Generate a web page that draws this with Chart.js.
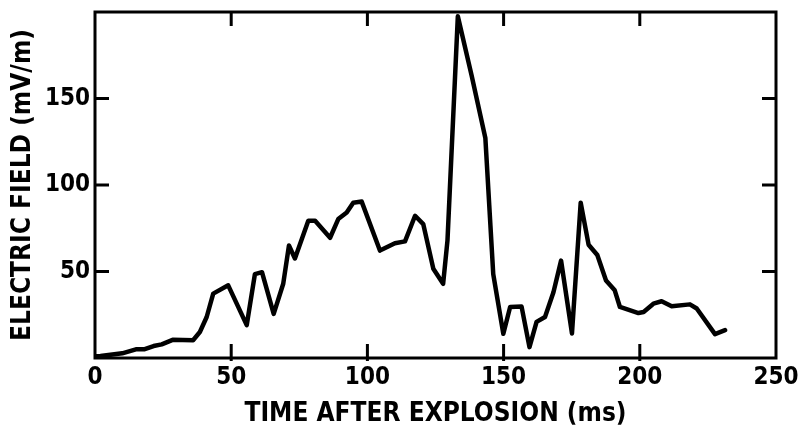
<!DOCTYPE html>
<html lang="en">
<head>
    <meta charset="UTF-8">
    <script src="https://cdn.jsdelivr.net/npm/chart.js@4.4.1/dist/chart.umd.min.js"></script>
    <title>Electric field after explosion</title>
    <style>
        body { margin: 0; background: #fff; }
    </style>
</head>
<body>
    <canvas id="fieldChart" width="799" height="427"></canvas>

    <script>
    // time after explosion (ms)
    const timeMs = [0, 2, 10, 15, 18, 21.5, 24.5, 28.5, 36, 38.5, 41, 43.4, 48.9, 55.7, 58.7, 61.3,
        65.6, 69.1, 71.2, 73.4, 78.3, 80.8, 86.3, 89.3, 92.4, 94.8, 97.9, 104.6, 110.1, 113.8,
        117.5, 120.5, 124.2, 127.8, 129.4, 133.2, 138.3, 143.3, 146.2, 149.9, 152.4, 156.6,
        159.5, 162.1, 165.2, 168.3, 171.1, 175.1, 178.3, 181.2, 184.4, 187.6, 190.8, 192.7,
        199.5, 201.4, 205, 208, 211.7, 218.4, 220.9, 227.6, 231.3];
    // electric field (mV/m)
    const fieldValues = [1, 1.1, 2.7, 5, 5, 6.9, 7.9, 10.5, 10.3, 15, 23.7, 37.2, 42, 19, 48.5, 49.6,
        25.5, 42.9, 65, 57.5, 79.3, 79.3, 69.5, 80.3, 84.1, 89.8, 90.4, 62.1, 66.3, 67.4,
        82.2, 77.4, 51.6, 42.9, 68, 197.5, 163, 127.2, 48.5, 14, 29.5, 29.7,
        6.3, 20.9, 23.7, 38, 56.3, 14.2, 89.8, 65.5, 59.5, 44.8, 39.1, 29.5,
        26, 26.6, 31.4, 32.8, 29.9, 31, 28.6, 13.8, 16.1];
    const xTicks = [0, 50, 100, 150, 200, 250];
    const yTicks = [50, 100, 150];

    const labelFont = '"DejaVu Sans Condensed", "DejaVu Sans", sans-serif';

    // frame round the plot plus the little inward tick marks on all four sides
    const framePlugin = {
        id: 'frame',
        afterDatasetsDraw(chart) {
            const { ctx, chartArea: a, scales } = chart;
            const len = 14;
            ctx.save();
            ctx.strokeStyle = '#000';
            ctx.lineWidth = 3;
            ctx.strokeRect(a.left, a.top, a.right - a.left, a.bottom - a.top);
            ctx.beginPath();
            xTicks.slice(1, -1).forEach(v => {
                const px = scales.x.getPixelForValue(v);
                ctx.moveTo(px, a.top);
                ctx.lineTo(px, a.top + len);
                ctx.moveTo(px, a.bottom + 3);
                ctx.lineTo(px, a.bottom - len);
            });
            yTicks.forEach(v => {
                const py = scales.y.getPixelForValue(v);
                ctx.moveTo(a.left, py);
                ctx.lineTo(a.left + len, py);
                ctx.moveTo(a.right, py);
                ctx.lineTo(a.right - len, py);
            });
            ctx.stroke();
            ctx.restore();
        }
    };

    const ctx = document.getElementById('fieldChart').getContext('2d');
    const fieldChart = new Chart(ctx, {
        type: 'line',
        data: {
            datasets: [{
                data: timeMs.map((t, i) => ({ x: t, y: fieldValues[i] })),
                borderColor: '#000',
                borderWidth: 4.5,
                pointRadius: 0,
                tension: 0,
                borderJoinStyle: 'round',
                borderCapStyle: 'round',
                fill: false
            }]
        },
        options: {
            responsive: false,
            animation: false,
            layout: { padding: { top: 12, right: 23, left: 0, bottom: 0 } },
            plugins: {
                legend: { display: false },
                tooltip: { enabled: false }
            },
            scales: {
                x: {
                    type: 'linear',
                    min: 0,
                    max: 250,
                    grid: { display: false, drawTicks: false },
                    border: { display: false },
                    ticks: {
                        stepSize: 50,
                        padding: 5,
                        color: '#000',
                        font: { family: labelFont, size: 24, weight: 'bold' }
                    },
                    title: {
                        display: true,
                        text: 'TIME AFTER EXPLOSION (ms)',
                        color: '#000',
                        padding: 0,
                        font: { family: labelFont, size: 26, weight: 'bold', lineHeight: 1 }
                    },
                    afterFit(scale) {
                        scale.height = 69;
                        scale.paddingLeft = 0;
                        scale.paddingRight = 0;
                    }
                },
                y: {
                    min: 0,
                    max: 200,
                    grid: { display: false, drawTicks: false },
                    border: { display: false },
                    ticks: {
                        stepSize: 50,
                        padding: 5,
                        color: '#000',
                        font: { family: labelFont, size: 24, weight: 'bold' },
                        callback: v => (yTicks.includes(v) ? v : '')
                    },
                    title: {
                        display: true,
                        text: 'ELECTRIC FIELD (mV/m)',
                        color: '#000',
                        padding: { top: 10, bottom: 0 },
                        font: { family: labelFont, size: 26, weight: 'bold', lineHeight: 1 }
                    },
                    afterFit(scale) {
                        scale.width = 95;
                        scale.paddingTop = 0;
                        scale.paddingBottom = 0;
                    }
                }
            }
        },
        plugins: [framePlugin]
    });
    </script>
</body>
</html>
